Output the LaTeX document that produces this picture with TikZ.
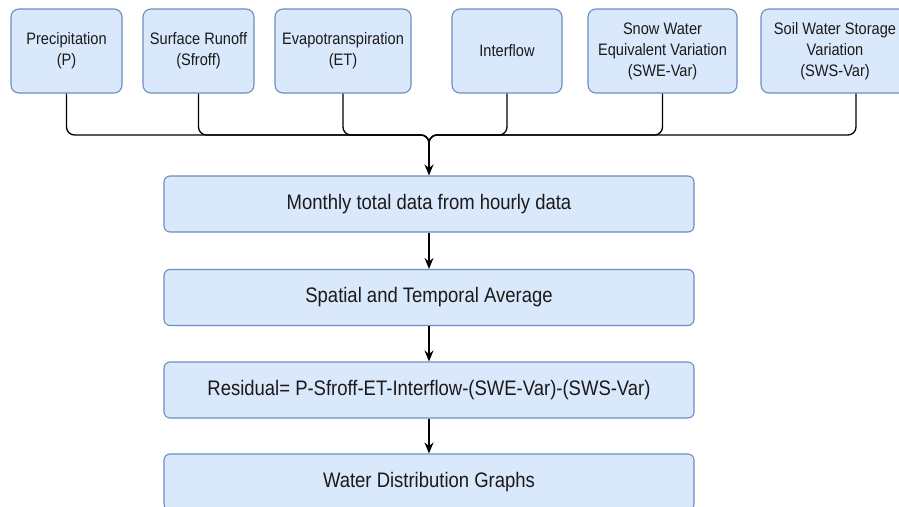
\documentclass[tikz,border=0pt]{standalone}
\usepackage{fontspec}
\setmainfont{Liberation Sans}[FakeStretch=0.88]
\usepackage{tikz}
\usetikzlibrary{arrows.meta, positioning, calc}
\definecolor{boxfill}{HTML}{DAE8FC}
\definecolor{boxline}{HTML}{6C8EBF}
\definecolor{txt}{HTML}{1A1A1A}

\begin{document}
\begin{tikzpicture}[x=1pt, y=-1pt,
    topbox/.style={draw=boxline, fill=boxfill, line width=1.1pt, rounded corners=8pt,
        minimum height=84pt, align=center, text=txt, inner sep=0pt,
        font=\fontsize{16.6}{21}\selectfont},
    mainbox/.style={draw=boxline, fill=boxfill, line width=1.1pt, rounded corners=6pt,
        minimum width=530pt, minimum height=56pt, text=txt, inner sep=0pt,
        font=\fontsize{21}{24}\selectfont},
    flow/.style={line width=1.3pt, rounded corners=8pt},
    arr/.style={line width=1.3pt, -{Stealth[length=11pt, width=9pt]}}]
\useasboundingbox (0,0) rectangle (899,506);
% input variables
\node[topbox, minimum width=111pt] (prec) at (66.5,51) {Precipitation\\(P)};
\node[topbox, minimum width=111pt] (sfroff) at (198.5,51) {Surface Runoff\\(Sfroff)};
\node[topbox, minimum width=136pt] (et) at (343,51) {Evapotranspiration\\(ET)};
\node[topbox, minimum width=110pt] (inter) at (507,51) {Interflow};
\node[topbox, minimum width=149pt] (swe) at (662.5,51) {Snow Water\\Equivalent Variation\\(SWE-Var)};
\node[topbox, minimum width=148pt] (sws) at (835,51) {Soil Water Storage\\Variation\\(SWS-Var)};
% processing steps
\node[mainbox] (monthly) at (429,204) {Monthly total data from hourly data};
\node[mainbox] (avg) at (429,297.5) {Spatial and Temporal Average};
\node[mainbox] (resid) at (429,390) {Residual= P-Sfroff-ET-Interflow-(SWE-Var)-(SWS-Var)};
\node[mainbox] (graphs) at (429,482) {Water Distribution Graphs};
% merge the inputs
\coordinate (join) at (429,135);
\coordinate (down) at (429,155);
\foreach \src in {prec, sfroff, et, inter, swe}
  \draw[flow] (\src.south) |- (join) -- (down);
\draw[flow] ([xshift=21pt]sws.south) |- (join) -- (down);
\draw[arr] ($(join)+(0,8)$) -- (monthly.north);
% chain
\draw[arr] (monthly) -- (avg);
\draw[arr] (avg) -- (resid);
\draw[arr] (resid) -- (graphs);
\end{tikzpicture}
\end{document}
